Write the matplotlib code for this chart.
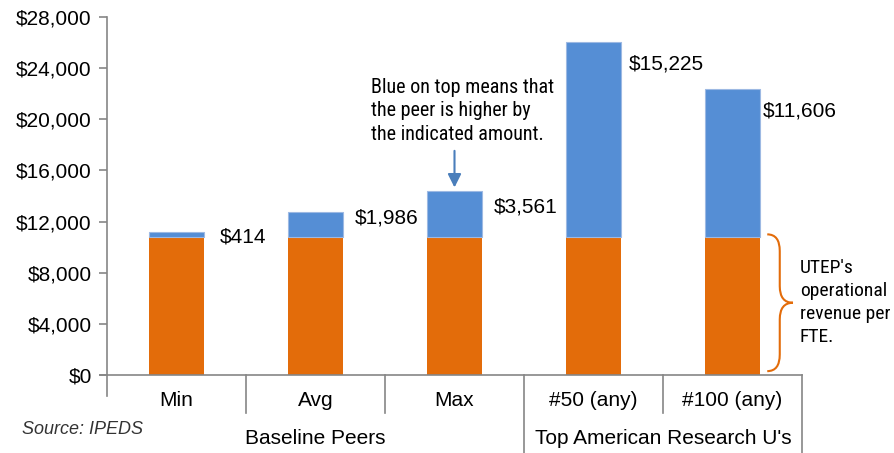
import matplotlib
matplotlib.use('Agg')
import matplotlib.pyplot as plt
from matplotlib.path import Path
from matplotlib.patches import PathPatch
import matplotlib.transforms as mtransforms

# data
categories = ['Min', 'Avg', 'Max', '#50 (any)', '#100 (any)']
groups = ['Baseline Peers', 'Top American Research U\'s']
group_spans = [(0, 2), (3, 4)]
utep_base = [10800, 10800, 10800, 10800, 10800]
peer_diff = [414, 1986, 3561, 15225, 11606]
diff_labels = ['$414', '$1,986', '$3,561', '$15,225', '$11,606']
yticks = list(range(0, 28001, 4000))

# label placement (positions only)
label_dx = [0.31, 0.284, 0.28, 0.255, 0.22]
label_y = [10790, 12280, 13140, 24320, 20650]

ORANGE = '#E36C0A'
BLUE = '#558ED5'
GRAY = '#868686'
FONT = ['Liberation Sans', 'DejaVu Sans']
NARROW = ['Roboto Condensed', 'Liberation Sans', 'DejaVu Sans']

plt.rcParams['font.family'] = FONT

fig = plt.figure(figsize=(8.94, 4.53), dpi=100)
ax = fig.add_axes([107 / 894, 1 - 375 / 453, 695 / 894, 358 / 453])

x = list(range(len(categories)))
ax.bar(x, utep_base, width=0.39, color=ORANGE, edgecolor='none', zorder=2)
ax.bar(x, peer_diff, width=0.39, bottom=utep_base, color=BLUE,
       edgecolor='#9DB9E3', linewidth=0.8, zorder=2)

for i, txt in enumerate(diff_labels):
    ax.text(i + label_dx[i], label_y[i], txt, ha='left', va='center',
            fontsize=15, color='black')

ax.set_xlim(-0.5, len(categories) - 0.5)
ax.set_ylim(0, 28000)
ax.set_yticks(yticks)
ax.set_yticklabels(['${:,}'.format(v) for v in yticks], fontsize=15)
ax.set_xticks([])
for s in ['top', 'right']:
    ax.spines[s].set_visible(False)
ax.spines['left'].set_color(GRAY)
ax.spines['bottom'].set_color(GRAY)
ax.spines['left'].set_linewidth(1.2)
ax.spines['bottom'].set_linewidth(1.2)
ax.spines['bottom'].set_bounds(-0.55, len(categories) - 0.5)
ax.tick_params(axis='y', direction='out', length=6, width=1.2, color=GRAY, pad=5)

# two-level category axis
trans = mtransforms.blended_transform_factory(ax.transData, ax.transAxes)
group_edges = [g[0] - 0.5 for g in group_spans] + [group_spans[-1][1] + 0.5]
for b in range(len(categories) + 1):
    xb = b - 0.5
    if b == 0:
        y_end = -0.06
    elif xb in group_edges:
        y_end = -0.218
    else:
        y_end = -0.106
    ax.plot([xb, xb], [0, y_end], color=GRAY, lw=1.2, transform=trans, clip_on=False)

for i, c in enumerate(categories):
    ax.text(i, -0.072, c, ha='center', va='center', fontsize=15, transform=trans)
for (a, b), g in zip(group_spans, groups):
    ax.text((a + b) / 2, -0.178, g, ha='center', va='center', fontsize=15, transform=trans)

fig.text(22 / 894, 1 - 430 / 453, 'Source: IPEDS', ha='left', va='center',
         fontsize=13, style='italic', color='#333333')

# callout above Max
ax.text(1.40, 20650, 'Blue on top means that\nthe peer is higher by\nthe indicated amount.',
        ha='left', va='center', fontsize=14.5, family=NARROW, linespacing=1.3)
ax.annotate('', xy=(2, 14450), xytext=(2, 17750),
            arrowprops=dict(arrowstyle='-|>', color='#4A7EBB', lw=1.5, mutation_scale=20))

# brace beside last bar
x0, xs, xm = 4.25, 4.34, 4.435
ytop, ybot = 11000, 300
ymid = (ytop + ybot) / 2
d = 1300
verts = [(x0, ytop), (xs, ytop), (xs, ytop - d),
         (xs, ymid + d),
         (xs, ymid), (xm, ymid),
         (xs, ymid), (xs, ymid - d),
         (xs, ybot + d),
         (xs, ybot), (x0, ybot)]
codes = [Path.MOVETO, Path.CURVE3, Path.CURVE3,
         Path.LINETO,
         Path.CURVE3, Path.CURVE3,
         Path.CURVE3, Path.CURVE3,
         Path.LINETO,
         Path.CURVE3, Path.CURVE3]
ax.add_patch(PathPatch(Path(verts, codes), fill=False, edgecolor=ORANGE, lw=1.5, clip_on=False))
ax.text(4.485, ymid, "UTEP's\noperational\nrevenue per\nFTE.", ha='left', va='center',
        fontsize=14, family=NARROW, linespacing=1.35, clip_on=False)

fig.savefig('out.png', dpi=100)
